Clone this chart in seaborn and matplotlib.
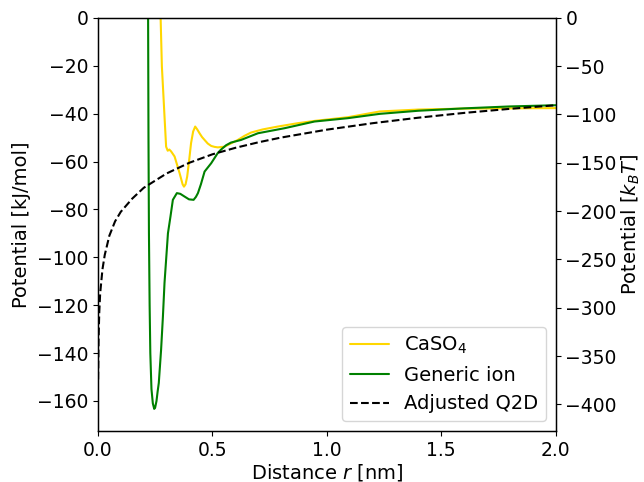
import matplotlib
matplotlib.use("Agg")
import matplotlib.pyplot as plt
import seaborn as sns
import numpy as np

# CaSO4 curve (r in nm, potential in kJ/mol)
caso4_r = [0.272, 0.274, 0.2795, 0.286, 0.291, 0.298, 0.305, 0.312, 0.320, 0.335, 0.357, 0.370, 0.376,
           0.383, 0.390, 0.398, 0.407, 0.416, 0.425, 0.434, 0.444, 0.455, 0.466, 0.480, 0.495, 0.510,
           0.524, 0.553, 0.580, 0.611, 0.640, 0.669, 0.72, 0.786, 0.873, 0.95, 1.092, 1.231, 1.40,
           1.60, 1.80, 2.0]
caso4_v = [10, 0, -20.3, -32, -41.2, -53.8, -55.5, -55.0, -55.8, -57.9, -64.9, -69.5, -70.5,
           -69.5, -66.3, -60, -52.3, -47.5, -45.4, -46.6, -48.2, -49.8, -51, -52.5, -53.5, -53.9,
           -54.1, -53.8, -52.5, -51, -49.3, -47.9, -46.6, -45.4, -44, -43, -41.5, -39.1, -38.3,
           -37.9, -37.8, -37.7]

# Generic ion curve
gen_r = [0.219, 0.221, 0.223, 0.226, 0.229, 0.234, 0.240, 0.246, 0.250, 0.256, 0.261, 0.266,
         0.276, 0.284, 0.291, 0.301, 0.306, 0.317, 0.3275, 0.345, 0.360, 0.378, 0.398, 0.418,
         0.428, 0.437, 0.450, 0.466, 0.495, 0.524, 0.537, 0.560, 0.581, 0.625, 0.699, 0.815,
         0.946, 1.092, 1.231, 1.40, 1.60, 1.80, 2.0]
gen_v = [10, -50, -90, -120, -140, -155, -161, -163.3, -162.8, -160, -156, -152.5,
         -138.7, -124.8, -110.7, -96.9, -90, -83, -76, -73.2, -73.5, -74.6, -75.8, -76,
         -74.8, -73.2, -69.5, -64.2, -60.7, -56.4, -55.1, -53.2, -52.1, -51, -48.2, -46.1,
         -43.3, -41.9, -40.1, -38.8, -37.8, -37.0, -36.5]

# Adjusted Q2D curve
q2d_r = [0.001, 0.003, 0.006, 0.01, 0.02, 0.03, 0.05, 0.075, 0.1, 0.15, 0.2, 0.3, 0.4, 0.5,
         0.6, 0.7, 0.8, 1.0, 1.2, 1.4, 1.6, 1.8, 2.0]
q2d_v = [-151, -134, -123, -115, -105, -99, -91, -85, -81, -75.5, -71, -65, -60.5, -57,
         -54.3, -52, -50, -46.7, -44, -41.7, -39.7, -38, -36.5]

x_ticks = [0.0, 0.5, 1.0, 1.5, 2.0]
left_ticks = [0, -20, -40, -60, -80, -100, -120, -140, -160]
right_ticks = [0, -50, -100, -150, -200, -250, -300, -350, -400]
kbt_factor = 2.478

sns.set_style("ticks", rc={"text.color": "black", "axes.labelcolor": "black",
                           "xtick.color": "black", "ytick.color": "black",
                           "axes.edgecolor": "black"})
plt.rcParams['font.family'] = ['DejaVu Sans']
plt.rcParams['mathtext.fontset'] = 'dejavusans'
FS_T = 13.5
FS = 14

fig = plt.figure(figsize=(6.44, 4.82), dpi=100)
ax = fig.add_axes([0.152, 0.106, 0.711, 0.857])

sns.lineplot(x=caso4_r, y=caso4_v, ax=ax, color="gold", lw=1.5, label="CaSO$_4$",
             estimator=None, sort=False)
sns.lineplot(x=gen_r, y=gen_v, ax=ax, color="green", lw=1.5, label="Generic ion",
             estimator=None, sort=False)
sns.lineplot(x=q2d_r, y=q2d_v, ax=ax, color="black", lw=1.5, ls="--", label="Adjusted Q2D",
             estimator=None, sort=False)

ylo, yhi = -172.5, 0
ax.set_xlim(0, 2.0)
ax.set_ylim(ylo, yhi)
ax.set_xticks(x_ticks)
ax.set_yticks(left_ticks)
ax.set_xlabel("Distance $r$ [nm]", fontsize=FS, labelpad=2)
ax.set_ylabel("Potential [kJ/mol]", fontsize=FS, labelpad=4)
ax.tick_params(labelsize=FS_T)
for s in ax.spines.values():
    s.set_visible(True)
    s.set_linewidth(1.0)
ax.legend(loc="lower right", fontsize=FS)

ax2 = ax.twinx()
ax2.set_ylim(ylo * kbt_factor, yhi * kbt_factor)
ax2.set_yticks(right_ticks)
ax2.set_ylabel("Potential [$k_BT$]", fontsize=FS, labelpad=2)
ax2.tick_params(labelsize=FS_T)

fig.savefig("out.png", dpi=100)
